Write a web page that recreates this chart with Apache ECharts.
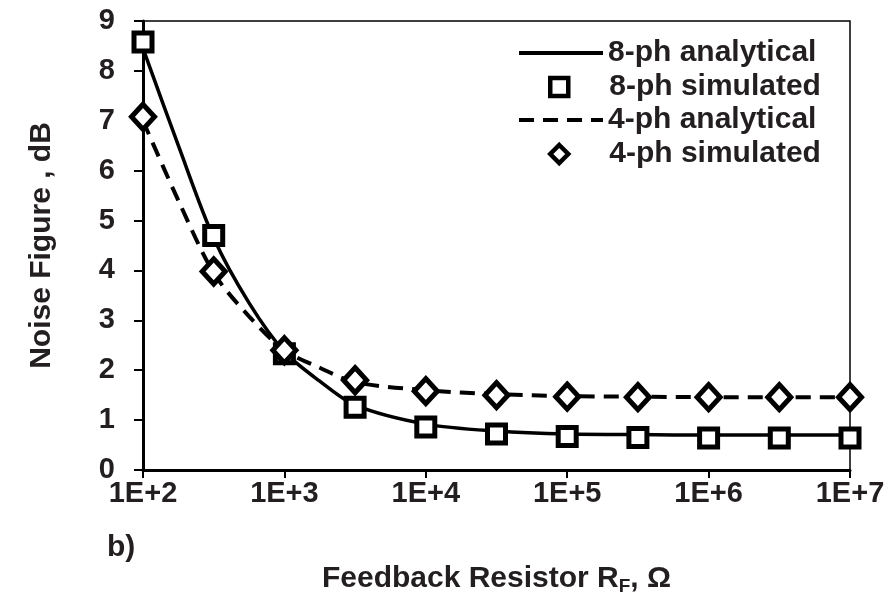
<!DOCTYPE html>
<html>
<head>
<meta charset="utf-8">
<script src="https://cdn.jsdelivr.net/npm/echarts@6/dist/echarts.min.js"></script>
<style>
    html, body { margin: 0; padding: 0; background: #fff; }
    #chart { width: 889px; height: 594px; }
</style>
</head>
<body>
<div id="chart"></div>
<script>
// feedback resistor values (ohm), half-decade steps for the simulated points
const rfSim = [100, 316.2, 1000, 3162, 10000, 31623, 100000, 316228, 1000000, 3162278, 10000000];
const nf8Sim = [8.58, 4.7, 2.33, 1.26, 0.86, 0.72, 0.67, 0.65, 0.64, 0.64, 0.64];
const nf4Sim = [7.08, 3.98, 2.4, 1.8, 1.58, 1.5, 1.47, 1.46, 1.46, 1.46, 1.46];

// analytical curves
const rfLine = [100, 178, 316.2, 562, 1000, 1778, 3162, 10000, 31623, 100000, 316228, 1000000, 3162278, 10000000];
const nf8Line = [8.45, 6.5, 4.65, 3.35, 2.37, 1.78, 1.3, 0.92, 0.78, 0.72, 0.71, 0.7, 0.7, 0.7];
const nf4Line = [7.0, 5.4, 3.95, 3.08, 2.4, 2.05, 1.76, 1.6, 1.52, 1.48, 1.47, 1.46, 1.46, 1.46];

const seriesNames = ['8-ph analytical', '8-ph simulated', '4-ph analytical', '4-ph simulated'];

function pairs(xs, ys) {
    return xs.map((x, i) => [x, ys[i]]);
}

const font = 'Liberation Sans, Arial, sans-serif';
const ink = '#000';
const text = '#231f20';
const legendText = { fontSize: 30, fontWeight: 'bold', color: text, fontFamily: font };

// one legend block per row, so lines and markers can have their own icon box
const legendRowTop = [38, 72, 105, 139];
function lineLegend(i) {
    return {
        orient: 'vertical',
        padding: 0,
        left: 517,
        top: legendRowTop[i],
        itemWidth: 84,
        itemHeight: 30,
        data: [seriesNames[i]],
        itemStyle: { opacity: 0 },
        lineStyle: { width: 4 },
        textStyle: legendText,
    };
}
function markLegend(i) {
    return {
        orient: 'vertical',
        padding: 0,
        left: 548,
        top: legendRowTop[i],
        itemWidth: 18,
        itemHeight: 18,
        data: [seriesNames[i]],
        itemStyle: { color: '#fff', borderColor: ink, borderWidth: 4.5, opacity: 1 },
        textStyle: Object.assign({ padding: [0, 0, 0, 36] }, legendText),
    };
}

let chart = echarts.init(document.getElementById('chart'), null, { renderer: 'canvas' });
let option = {
    animation: false,
    backgroundColor: '#fff',
    textStyle: { fontFamily: font },
    grid: {
        left: 143,
        right: 39,
        top: 21,
        bottom: 124,
        outerBoundsMode: 'none',
        show: true,
        borderColor: ink,
        borderWidth: 1.5,
    },
    legend: [lineLegend(0), markLegend(1), lineLegend(2), markLegend(3)],
    xAxis: {
        type: 'log',
        logBase: 10,
        min: 100,
        max: 10000000,
        splitLine: { show: false },
        minorTick: { show: false },
        axisLine: { lineStyle: { color: ink, width: 3 } },
        axisTick: { length: 8, lineStyle: { color: ink, width: 2 } },
        axisLabel: {
            margin: 9,
            fontSize: 29,
            fontWeight: 'bold',
            color: text,
            fontFamily: font,
            formatter: function (v) {
                return '1E+' + Math.round(Math.log10(v));
            },
        },
        name: '{a|Feedback Resistor R}{s|F}{a|, Ω}',
        nameLocation: 'middle',
        nameGap: 92,
        nameTextStyle: {
            rich: {
                a: { fontSize: 30, lineHeight: 34, fontWeight: 'bold', color: text, fontFamily: font },
                s: { fontSize: 19, lineHeight: 16, fontWeight: 'bold', color: text, fontFamily: font, verticalAlign: 'bottom' },
            },
        },
    },
    yAxis: {
        type: 'value',
        min: 0,
        max: 9,
        interval: 1,
        splitLine: { show: false },
        axisLine: { show: true, lineStyle: { color: ink, width: 3 } },
        axisTick: { show: true, length: 9, lineStyle: { color: ink, width: 2 } },
        axisLabel: { margin: 28, fontSize: 29, fontWeight: 'bold', color: text, fontFamily: font },
        name: 'Noise Figure , dB',
        nameLocation: 'middle',
        nameGap: 86,
        nameTextStyle: { fontSize: 30, fontWeight: 'bold', color: text, fontFamily: font },
    },
    graphic: [
        {
            type: 'text',
            left: 107,
            top: 533,
            style: { text: 'b)', font: 'bold 30px ' + font, fill: text },
        },
    ],
    series: [
        {
            name: seriesNames[0],
            type: 'line',
            data: pairs(rfLine, nf8Line),
            smooth: 0.3,
            symbol: 'none',
            lineStyle: { color: ink, width: 3.5 },
            itemStyle: { color: ink },
            z: 2,
        },
        {
            name: seriesNames[1],
            type: 'scatter',
            data: pairs(rfSim, nf8Sim),
            symbol: 'rect',
            symbolSize: 18,
            itemStyle: { color: '#fff', borderColor: ink, borderWidth: 5, opacity: 1 },
            z: 3,
        },
        {
            name: seriesNames[2],
            type: 'line',
            data: pairs(rfLine, nf4Line),
            smooth: 0.3,
            symbol: 'none',
            lineStyle: { color: ink, width: 4, type: [15, 9] },
            itemStyle: { color: ink },
            z: 2,
        },
        {
            name: seriesNames[3],
            type: 'scatter',
            data: pairs(rfSim, nf4Sim),
            symbol: 'diamond',
            symbolSize: [23, 25],
            itemStyle: { color: '#fff', borderColor: ink, borderWidth: 5, opacity: 1 },
            z: 4,
        },
    ],
};
chart.setOption(option);
</script>
</body>
</html>
